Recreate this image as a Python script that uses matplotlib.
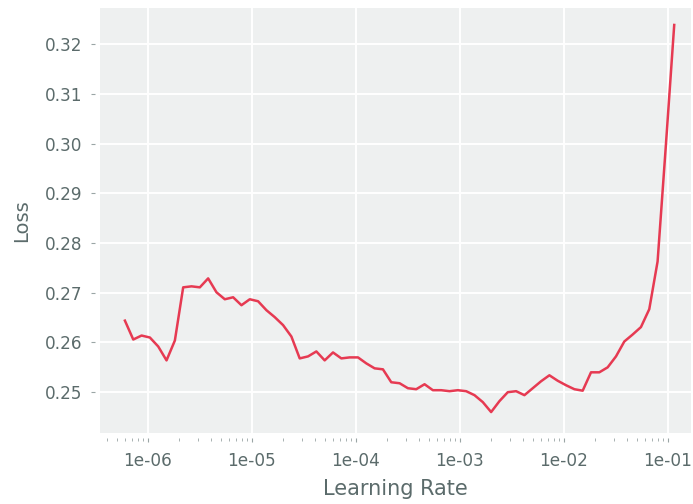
import matplotlib
matplotlib.use("Agg")
import matplotlib.pyplot as plt
from matplotlib.ticker import FuncFormatter

# learning rates and losses
lrs = [6.01e-7, 7.23e-7, 8.69e-7, 1.045e-6, 1.256e-6, 1.510e-6, 1.816e-6,
       2.183e-6, 2.625e-6, 3.156e-6, 3.794e-6, 4.562e-6, 5.485e-6, 6.594e-6,
       7.928e-6, 9.532e-6, 1.146e-5, 1.378e-5, 1.657e-5, 1.992e-5, 2.395e-5,
       2.879e-5, 3.462e-5, 4.162e-5, 5.004e-5, 6.016e-5, 7.233e-5, 8.696e-5,
       1.046e-4, 1.257e-4, 1.511e-4, 1.817e-4, 2.185e-4, 2.627e-4, 3.158e-4,
       3.797e-4, 4.565e-4, 5.488e-4, 6.599e-4, 7.933e-4, 9.538e-4, 1.147e-3,
       1.379e-3, 1.658e-3, 1.993e-3, 2.396e-3, 2.881e-3, 3.464e-3, 4.164e-3,
       5.007e-3, 6.019e-3, 7.237e-3, 8.701e-3, 1.046e-2, 1.258e-2, 1.512e-2,
       1.818e-2, 2.186e-2, 2.628e-2, 3.160e-2, 3.799e-2, 4.567e-2, 5.491e-2,
       6.602e-2, 7.937e-2, 9.543e-2, 1.147e-1]
losses = [0.2644, 0.2606, 0.2614, 0.2610, 0.2592, 0.2564, 0.2604,
          0.2711, 0.2713, 0.2711, 0.2729, 0.2701, 0.2687, 0.2691,
          0.2675, 0.2687, 0.2683, 0.2665, 0.2651, 0.2635, 0.2612,
          0.2568, 0.2572, 0.2582, 0.2564, 0.2580, 0.2568, 0.2570,
          0.2570, 0.2558, 0.2548, 0.2546, 0.2520, 0.2518, 0.2508,
          0.2506, 0.2516, 0.2504, 0.2504, 0.2502, 0.2504, 0.2502,
          0.2494, 0.2480, 0.2460, 0.2482, 0.2500, 0.2502, 0.2494,
          0.2508, 0.2522, 0.2534, 0.2523, 0.2514, 0.2506, 0.2503,
          0.2540, 0.2540, 0.2550, 0.2572, 0.2602, 0.2616, 0.2631,
          0.2667, 0.2763, 0.2998, 0.3239]

text_col = "#5b6b6b"

fig = plt.figure(figsize=(6.93, 5.04), dpi=100)
ax = fig.add_axes([0.145, 0.141, 0.852, 0.843])
ax.set_facecolor("#eef0f0")
for s in ax.spines.values():
    s.set_visible(False)
# ticks sit a few pixels away from the gray panel
ax.spines["left"].set_position(("outward", 4))
ax.spines["bottom"].set_position(("outward", 4))

ax.plot(lrs, losses, color="#e63a52", linewidth=1.8)

ax.set_xscale("log")
ax.set_xlim(3.5e-7, 0.166)
ax.set_ylim(0.2418, 0.3273)
ax.set_yticks([0.25, 0.26, 0.27, 0.28, 0.29, 0.30, 0.31, 0.32])
ax.xaxis.set_major_formatter(FuncFormatter(lambda v, p: "%.0e" % v))

ax.grid(True, which="major", color="white", linewidth=1.4)
ax.set_axisbelow(True)
ax.tick_params(axis="both", which="major", colors="#9aa5a5", labelcolor=text_col,
               labelsize=12.2, length=3, width=0.8)
ax.tick_params(axis="y", which="major", pad=6)
ax.tick_params(axis="x", which="major", pad=7)
ax.tick_params(axis="x", which="minor", colors="#9aa5a5", length=2, width=0.6)

ax.set_xlabel("Learning Rate", fontsize=15, color=text_col, labelpad=6)
ax.set_ylabel("Loss", fontsize=14, color=text_col, labelpad=10)

fig.savefig("out.png", dpi=100)
